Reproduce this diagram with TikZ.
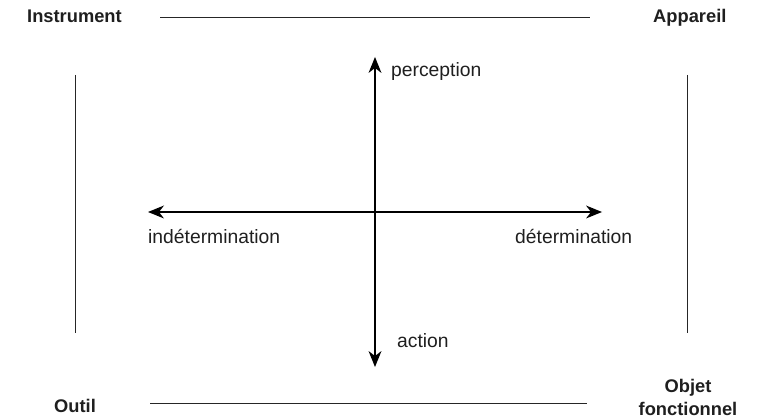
\documentclass[tikz,border=0pt]{standalone}
\usepackage{fontspec}
\setmainfont{Liberation Sans}
\usetikzlibrary{arrows.meta}
\begin{document}
\begin{tikzpicture}[x=1pt,y=-1pt,
  lbl/.style={font=\fontsize{19.3}{23}\selectfont, text=black!88, inner sep=0pt},
  corner/.style={lbl, font=\fontsize{18.3}{23}\selectfont\bfseries},
  frame/.style={draw=black!85, line width=0.8pt},
  axisline/.style={draw=black, line width=2pt, shorten >=8pt},
  pics/axistip/.style={code={\fill[black] (0,0) -- (-16,-6.5) -- (-11,0) -- (-16,6.5) -- cycle;}}]
\useasboundingbox (0,0) rectangle (757,419);
% corner labels
\node[corner, anchor=base west] (instr) at (27,23) {Instrument};
\node[corner, anchor=base west] (app) at (653,23) {Appareil};
\node[corner, anchor=base west] (outil) at (54,412) {Outil};
\node[corner, align=center, anchor=center] (obj) at (688,397) {Objet\\fonctionnel};
% frame lines
\coordinate (t1) at (160,17); \coordinate (t2) at (590,17);
\coordinate (b1) at (150,403); \coordinate (b2) at (587,403);
\coordinate (l1) at (75,75); \coordinate (l2) at (75,333);
\coordinate (r1) at (687,75); \coordinate (r2) at (687,333);
\draw[frame] (t1) -- (t2);
\draw[frame] (b1) -- (b2);
\draw[frame] (l1) -- (l2);
\draw[frame] (r1) -- (r2);
% axes
\coordinate (c) at (375,212);
\coordinate (up) at (375,57); \coordinate (down) at (375,367);
\coordinate (left) at (148,212); \coordinate (right) at (602,212);
\draw[axisline] (c) -- (up);
\draw[axisline] (c) -- (down);
\draw[axisline] (c) -- (left);
\draw[axisline] (c) -- (right);
\pic[rotate=90] at (up) {axistip};
\pic[rotate=-90] at (down) {axistip};
\pic[rotate=180] at (left) {axistip};
\pic at (right) {axistip};
% axis labels
\node[lbl, anchor=base west] (perc) at (391,77) {perception};
\node[lbl, anchor=base west] (act) at (397,348) {action};
\node[lbl, anchor=base west] (indet) at (148,244) {indétermination};
\node[lbl, anchor=base west] (det) at (515,244) {détermination};
\end{tikzpicture}
\end{document}
